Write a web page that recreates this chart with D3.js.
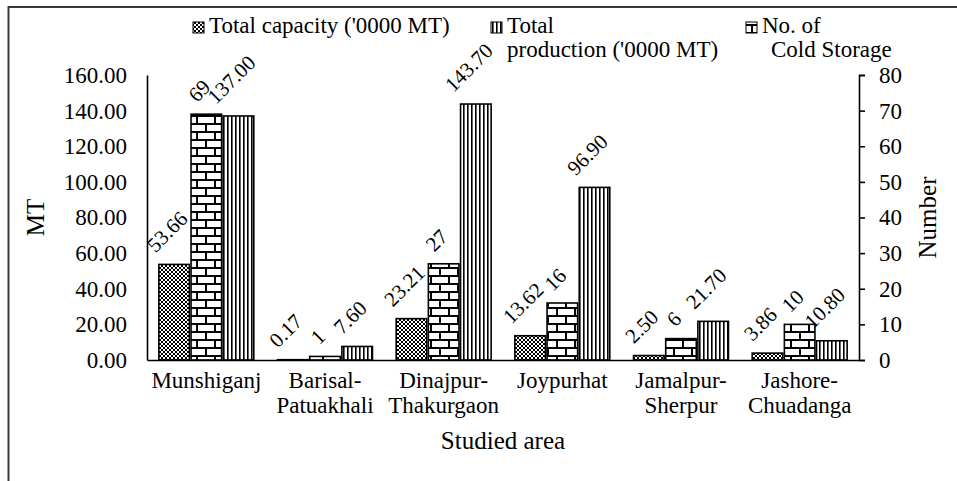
<!DOCTYPE html>
<html>
<head>
<meta charset="utf-8">
<script src="https://cdn.jsdelivr.net/npm/d3@7"></script>
<style>
  html, body { margin: 0; padding: 0; background: #fff; }
  svg { display: block; }
  svg text { font-family: "Liberation Serif", "Times New Roman", serif; }
</style>
</head>
<body>
<svg id="chart" width="957" height="481"></svg>
<script>
// Cold storage survey by studied area
const areas = [
  ["Munshiganj"],
  ["Barisal-", "Patuakhali"],
  ["Dinajpur-", "Thakurgaon"],
  ["Joypurhat"],
  ["Jamalpur-", "Sherpur"],
  ["Jashore-", "Chuadanga"]
];
const totalCapacity = [53.66, 0.17, 23.21, 13.62, 2.50, 3.86];     // '0000 MT, left axis
const coldStorageCount = [69, 1, 27, 16, 6, 10];                   // number, right axis
const totalProduction = [137.00, 7.60, 143.70, 96.90, 21.70, 10.80]; // '0000 MT, left axis
const leftTicks = [0, 20, 40, 60, 80, 100, 120, 140, 160];
const rightTicks = [0, 10, 20, 30, 40, 50, 60, 70, 80];

const FONT = "'Liberation Serif', 'Times New Roman', serif";
const svg = d3.select("#chart").attr("font-family", FONT);
const margin = { left: 147, right: 98, top: 75, bottom: 121 };
const W = 957, H = 481;
const plotW = W - margin.left - margin.right;
const plotH = H - margin.top - margin.bottom;

// frame around the figure
svg.append("path")
  .attr("d", `M8.5,${H} V7 H${W}`)
  .attr("fill", "none").attr("stroke", "#3a3a3a").attr("stroke-width", 2);

// fill patterns
const defs = svg.append("defs");
const checker = defs.append("pattern").attr("id", "pat-checker")
  .attr("patternUnits", "userSpaceOnUse").attr("width", 4).attr("height", 4);
checker.append("rect").attr("width", 4).attr("height", 4).attr("fill", "#fff");
checker.append("rect").attr("width", 2).attr("height", 2).attr("fill", "#000");
checker.append("rect").attr("x", 2).attr("y", 2).attr("width", 2).attr("height", 2).attr("fill", "#000");

const brick = defs.append("pattern").attr("id", "pat-brick")
  .attr("patternUnits", "userSpaceOnUse").attr("width", 18).attr("height", 16);
brick.append("rect").attr("width", 18).attr("height", 16).attr("fill", "#fff");
brick.append("path")
  .attr("d", "M0,1 H18 M0,9 H18 M5,1 V9 M14,9 V17")
  .attr("stroke", "#000").attr("stroke-width", 2).attr("fill", "none");

const stripes = defs.append("pattern").attr("id", "pat-stripes")
  .attr("patternUnits", "userSpaceOnUse").attr("width", 4).attr("height", 4);
stripes.append("rect").attr("width", 4).attr("height", 4).attr("fill", "#fff");
stripes.append("rect").attr("x", 0).attr("width", 1.6).attr("height", 4).attr("fill", "#000");

const g = svg.append("g").attr("transform", `translate(${margin.left},${margin.top})`);

const x0 = d3.scaleBand().domain(d3.range(areas.length)).range([0, plotW])
  .paddingInner(0.2).paddingOuter(0.1);
const seriesKeys = ["capacity", "storage", "production"];
const x1 = d3.scaleBand().domain(seriesKeys).range([0, x0.bandwidth()]).paddingInner(0.05);
const yL = d3.scaleLinear().domain([0, 160]).range([plotH, 0]);
const yR = d3.scaleLinear().domain([0, 80]).range([plotH, 0]);

const series = [
  { key: "capacity", values: totalCapacity, scale: yL, fill: "url(#pat-checker)", fmt: d3.format(".2f") },
  { key: "storage", values: coldStorageCount, scale: yR, fill: "url(#pat-brick)", fmt: d3.format("d") },
  { key: "production", values: totalProduction, scale: yL, fill: "url(#pat-stripes)", fmt: d3.format(".2f") }
];

// bars
series.forEach(s => {
  g.selectAll(null).data(s.values).enter().append("rect")
    .attr("x", (d, i) => x0(i) + x1(s.key))
    .attr("y", d => s.scale(d))
    .attr("width", x1.bandwidth())
    .attr("height", d => plotH - s.scale(d))
    .attr("fill", s.fill)
    .attr("stroke", "#000").attr("stroke-width", 1.6);
});

// value labels, rotated 45 degrees above each bar
series.forEach(s => {
  g.selectAll(null).data(s.values).enter().append("text")
    .text(d => s.fmt(d))
    .attr("font-family", FONT)
    .attr("font-size", 21)
    .attr("fill", "#000")
    .each(function (d, i) {
      const L = this.getComputedTextLength();
      const cx = x0(i) + x1(s.key) + x1.bandwidth() / 2;
      const top = s.scale(d);
      const sx = cx - L * 0.354 - 2;
      const sy = top - 11;
      d3.select(this).attr("transform", `translate(${sx},${sy}) rotate(-45)`);
    });
});

// axes
const axisFont = 23;
const leftAxis = g.append("g").call(d3.axisLeft(yL).tickValues(leftTicks).tickFormat(d3.format(".2f")).tickSize(0).tickPadding(20));
leftAxis.attr("font-family", FONT);
leftAxis.select(".domain").attr("stroke", "#000").attr("stroke-width", 1.6);
leftAxis.selectAll("text").attr("font-size", axisFont).attr("font-family", FONT).attr("fill", "#000");

const rightAxis = g.append("g").attr("transform", `translate(${plotW},0)`)
  .call(d3.axisRight(yR).tickValues(rightTicks).tickSize(6).tickSizeOuter(6).tickPadding(14));
rightAxis.attr("font-family", FONT);
rightAxis.select(".domain").attr("stroke", "#000").attr("stroke-width", 1.6);
rightAxis.selectAll("line").attr("stroke", "#000").attr("stroke-width", 1.6);
rightAxis.selectAll("text").attr("font-size", axisFont).attr("font-family", FONT).attr("fill", "#000");

const bottomAxis = g.append("g").attr("transform", `translate(0,${plotH})`)
  .call(d3.axisBottom(x0).tickSize(0).tickFormat(""));
bottomAxis.select(".domain").attr("stroke", "#000").attr("stroke-width", 1.6);

// category labels (two lines where the area name is hyphenated)
const catLabels = g.append("g").attr("font-size", axisFont).attr("font-family", FONT).attr("text-anchor", "middle");
areas.forEach((lines, i) => {
  const t = catLabels.append("text")
    .attr("font-family", FONT)
    .attr("x", x0(i) + x0.bandwidth() / 2)
    .attr("y", plotH + 28);
  lines.forEach((ln, k) => {
    t.append("tspan").attr("x", x0(i) + x0.bandwidth() / 2).attr("dy", k === 0 ? 0 : 25).text(ln);
  });
});

// axis titles
svg.append("text").attr("font-size", 25).attr("font-family", FONT).attr("text-anchor", "middle")
  .attr("transform", `translate(44,${margin.top + plotH / 2}) rotate(-90)`).text("MT");
svg.append("text").attr("font-size", 25).attr("font-family", FONT).attr("text-anchor", "middle")
  .attr("transform", `translate(936,${margin.top + plotH / 2}) rotate(-90)`).text("Number");
svg.append("text").attr("font-size", 25).attr("font-family", FONT).attr("text-anchor", "middle")
  .attr("x", margin.left + plotW / 2).attr("y", 449).text("Studied area");

// legend
const legend = svg.append("g").attr("font-size", axisFont).attr("font-family", FONT);
const legendItems = [
  { fill: "url(#pat-checker)", x: 193, lines: ["Total capacity ('0000 MT)"], indent: [0] },
  { fill: "url(#pat-stripes)", x: 491, lines: ["Total", "production ('0000 MT)"], indent: [0, 0] },
  { fill: "url(#pat-brick)", x: 746, lines: ["No. of", "Cold Storage"], indent: [0, 9] }
];
legendItems.forEach(item => {
  legend.append("rect").attr("x", item.x).attr("y", 22).attr("width", 11).attr("height", 11)
    .attr("fill", item.fill).attr("stroke", "#000").attr("stroke-width", 1);
  item.lines.forEach((ln, k) => {
    legend.append("text").attr("font-family", FONT)
      .attr("x", item.x + 16 + item.indent[k]).attr("y", 33 + k * 24).text(ln);
  });
});
</script>
</body>
</html>
